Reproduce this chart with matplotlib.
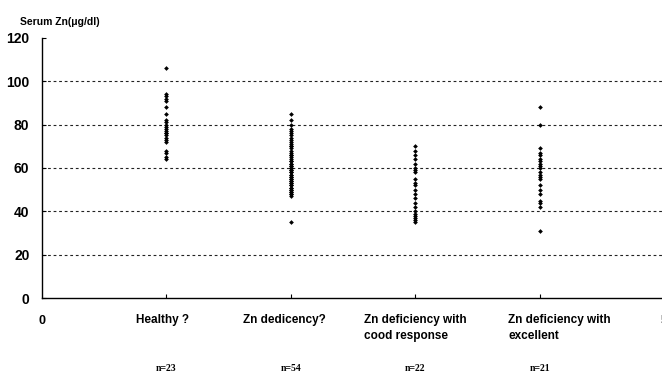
import matplotlib
matplotlib.use("Agg")
import matplotlib.pyplot as plt
import matplotlib.transforms as mtransforms
import numpy as np

categories = ["Healthy ?", "Zn dedicency?", "Zn deficiency with\ncood response", "Zn deficiency with\nexcellent"]
counts = ["n=23", "n=54", "n=22", "n=21"]
healthy = [106, 94, 93, 92, 91, 88, 85, 82, 81, 80, 79, 78, 77, 76, 76, 75, 74, 73, 72, 68, 67, 65, 64]
deficiency = [85, 82, 80, 78, 77, 76, 75, 74, 73, 72, 71, 70, 69, 68, 67, 66, 66, 65, 64, 63, 63, 62, 61,
              61, 60, 60, 59, 59, 58, 58, 57, 57, 56, 56, 55, 55, 54, 54, 53, 53, 52, 52, 51, 51, 50, 50,
              49, 49, 48, 48, 47, 70, 62, 35]
good = [70, 68, 66, 64, 62, 60, 59, 58, 55, 53, 52, 50, 48, 46, 44, 42, 40, 39, 38, 37, 36, 35]
excellent = [88, 80, 69, 67, 66, 64, 63, 62, 61, 60, 58, 57, 56, 55, 52, 50, 48, 45, 44, 42, 31]
series = [healthy, deficiency, good, excellent]
yticks = [0, 20, 40, 60, 80, 100, 120]
label_shift_px = [-4, -6, 0, 20]

fig = plt.figure(figsize=(6.62, 3.76), dpi=100)
ax = fig.add_axes([42/662, 1-298/376, 622/662, 260/376])
for i, vals in enumerate(series):
    ax.plot([i + 1] * len(vals), vals, linestyle='none', marker='D', markersize=2.4,
            color='black', markeredgewidth=0)
ax.set_xlim(0, 5)
ax.set_ylim(0, 120)
for y in yticks[1:-1]:
    ax.axhline(y, color='#222222', linestyle=(0, (2.5, 2.5)), linewidth=0.8, zorder=0)
ax.spines['top'].set_visible(False)
ax.spines['right'].set_visible(False)
ax.spines['left'].set_linewidth(1.0)
ax.spines['bottom'].set_linewidth(1.0)
ax.set_yticks(yticks)
ax.set_yticklabels([str(v) for v in yticks], fontsize=10, fontweight='bold', family='Liberation Sans')
ax.tick_params(axis='y', length=3, direction='in', pad=9)
ax.set_xticks([1, 2, 3, 4])
ax.set_xticklabels([])
ax.tick_params(axis='x', length=3, direction='in')
ax.text(0, -0.065, "0", transform=ax.get_xaxis_transform(), ha='center', va='top',
        fontsize=9, fontweight='bold', family='Liberation Sans')
ax.text(5, -0.065, "5", transform=ax.get_xaxis_transform(), ha='center', va='top',
        fontsize=9, fontweight='bold', family='Liberation Sans', clip_on=False)
for i, (c, n) in enumerate(zip(categories, counts)):
    tr = ax.get_xaxis_transform() + mtransforms.ScaledTranslation(label_shift_px[i] / 100, 0, fig.dpi_scale_trans)
    ax.text(i + 1, -0.06, c, transform=tr, ha='center', va='top',
            multialignment='left', fontsize=8.5, fontweight='bold', family='Liberation Sans',
            linespacing=1.45)
    ax.text(i + 1, -0.255, n, transform=ax.get_xaxis_transform(), ha='center', va='top',
            fontsize=7, family='Liberation Serif', fontweight='bold')
fig.text(20/662, 1-22/376, "Serum Zn(\u03bcg/dl)", fontsize=7.5, fontweight='bold',
         family='Liberation Sans', va='center', ha='left')
fig.savefig("out.png", dpi=100)
